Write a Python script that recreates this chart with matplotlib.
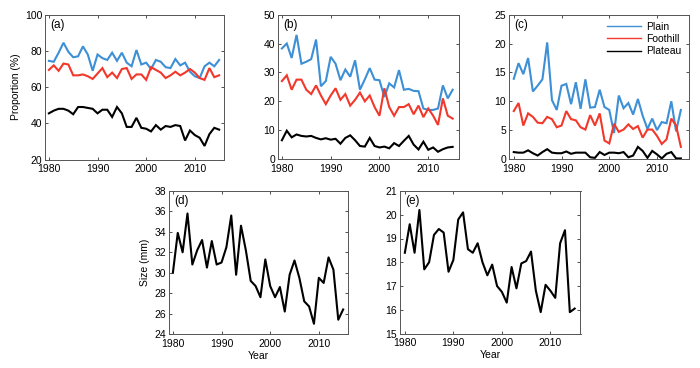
import matplotlib
matplotlib.use("Agg")
import matplotlib.pyplot as plt
import numpy as np

plt.rcParams['font.family'] = ['Liberation Sans', 'DejaVu Sans']

years = list(range(1980, 2016))

# Panel (a) proportion (%)
a_plain = [74.5, 74, 79, 84.5, 79.5, 76.5, 77, 82.5, 78, 69, 78, 76, 75, 79, 74.5, 79, 73.5, 71.5,
           80.5, 72.5, 73.5, 70, 75, 74, 71, 70.5, 75.5, 72, 73.5, 68.5, 66, 65, 71.5, 73.5, 71.5, 75]
a_foothill = [69.5, 72, 69, 73, 72.5, 66.5, 66.5, 67, 66, 64.5, 67.5, 70.5, 65.5, 68, 65, 70, 70.5, 64.5,
              67, 67, 64, 71, 69.5, 68, 65, 66.5, 68.5, 66.5, 68, 70, 68, 65, 64, 70.5, 65.5, 66.5]
a_plateau = [45.5, 47, 48, 48, 47, 45, 49, 49, 48.5, 48, 45.5, 47.5, 47.5, 43.5, 49, 45.5, 38, 38,
             43, 37.5, 37, 35.5, 39, 36.5, 38.5, 38, 39, 38.5, 30.5, 36, 33.5, 32, 27.5, 34, 37.5, 36.5]

# Panel (b)
b_plain = [38.3, 40, 35, 43, 33, 33.7, 34.6, 41.4, 25.2, 27, 35.4, 33, 27.3, 31, 28.5, 34.2, 24, 27.6,
           31.5, 27.5, 27.3, 21.5, 26.2, 24.8, 30.8, 24, 24.3, 23.6, 23.5, 17.5, 17, 17, 17.5, 25.5, 21, 24]
b_foothill = [27, 29, 24, 27.5, 27.5, 24, 22.5, 25.5, 22, 19, 22, 24.5, 20.5, 22.5, 18.5, 20.5, 23, 20,
              22, 18, 15, 24.5, 18, 15, 18, 18, 19, 15.5, 18.5, 14.5, 17.5, 15, 11.8, 21, 15, 14]
b_plateau = [6.5, 9.8, 7.5, 8.5, 8, 7.8, 8, 7.3, 6.8, 7.2, 6.7, 7, 5.3, 7.3, 8.2, 6.5, 4.5, 4.3,
             7.3, 4.5, 4, 4.3, 3.7, 5.5, 4.5, 6.3, 8, 5, 3.3, 6, 3.2, 4, 2.5, 3.4, 4, 4.2]

# Panel (c)
c_plain = [13.9, 16.6, 14.7, 17.5, 11.7, 12.7, 13.8, 20.2, 10.2, 8.5, 12.7, 13, 9.5, 13.3, 8.7, 13.8, 8.9, 9,
           12, 9, 8.5, 4.5, 11, 8.8, 9.7, 7.7, 10.4, 7.5, 5.2, 7, 5, 6.4, 6.2, 10, 4.8, 8.5]
c_foothill = [8.3, 9.7, 5.8, 7.9, 7.3, 6.3, 6.2, 7.3, 6.9, 5.5, 5.8, 8.3, 6.9, 6.7, 5.5, 5.1, 7.6, 5.8,
              7.9, 3.2, 2.7, 6.1, 4.7, 5.1, 6, 5.2, 5.7, 3.7, 5.1, 5.1, 4, 2.6, 3.4, 7, 5.8, 2.1]
c_plateau = [1.2, 1.1, 1.1, 1.5, 1.0, 0.6, 1.2, 1.7, 1.1, 1.0, 1.0, 1.3, 0.9, 1.1, 1.1, 1.1, 0.3, 0.2,
             1.2, 0.7, 1.1, 1.1, 1.0, 1.2, 0.3, 0.6, 2.1, 1.4, 0.2, 1.4, 0.8, 0.1, 0.9, 1.2, 0.1, 0.1]

# Panel (d) size (mm)
d_size = [30, 33.9, 32, 35.8, 30.8, 32.2, 33.2, 30.5, 33.1, 30.8, 31, 32.5, 35.6, 29.8, 34.6, 32.2, 29.2, 28.7,
          27.6, 31.3, 28.7, 27.6, 28.6, 26.2, 29.8, 31.2, 29.5, 27.2, 26.7, 25, 29.5, 29, 31.5, 30.3, 25.4, 26.4]

# Panel (e) size (mm)
e_size = [18.4, 19.6, 18.4, 20.2, 17.7, 18, 19.15, 19.4, 19.25, 17.6, 18.1, 19.8, 20.1, 18.55, 18.4, 18.8, 18, 17.45,
          17.9, 17, 16.75, 16.3, 17.8, 16.9, 17.95, 18.05, 18.45, 16.8, 15.9, 17.05, 16.8, 16.5, 18.8, 19.35, 15.9, 16.05]

series_labels = ['Plain', 'Foothill', 'Plateau']
colors = ['#3d8fd6', '#f2372b', '#000000']

fig = plt.figure(figsize=(7.0, 3.68), dpi=100)
FS = 7.5

def style(ax, xlim, ylim, yticks, label):
    ax.set_xlim(*xlim)
    ax.set_ylim(*ylim)
    ax.set_xticks([1980, 1990, 2000, 2010])
    ax.set_yticks(yticks)
    ax.tick_params(direction='in', length=2.5, width=0.6, labelsize=FS, top=True, right=True,
                   colors='#333333', labelcolor='black')
    ax.tick_params(axis='x', pad=3.5)
    ax.tick_params(axis='y', pad=2)
    for s in ax.spines.values():
        s.set_linewidth(0.7)
        s.set_color('#555555')
    ax.text(0.03, 0.97, label, transform=ax.transAxes, ha='left', va='top', fontsize=8.5)

W = 700.0
H = 368.0
def pos(l, r, t, b):
    return [l / W, 1 - b / H, (r - l) / W, (b - t) / H]

ax_a = fig.add_axes(pos(45, 224, 14.7, 159.5))
ax_b = fig.add_axes(pos(278, 458.5, 14.7, 159))
ax_c = fig.add_axes(pos(509, 688.5, 14.7, 159))
ax_d = fig.add_axes(pos(169, 348, 191, 334))
ax_e = fig.add_axes(pos(400, 580.5, 191, 333.5))

for ax, data in [(ax_a, (a_plain, a_foothill, a_plateau)),
                 (ax_b, (b_plain, b_foothill, b_plateau)),
                 (ax_c, (c_plain, c_foothill, c_plateau))]:
    for vals, c, lab in zip(data, colors, series_labels):
        ax.plot(years, vals, color=c, lw=1.5, label=lab, solid_joinstyle='miter')

style(ax_a, (1979.2, 2016.0), (20, 100), [20, 40, 60, 80, 100], '(a)')
style(ax_b, (1979.2, 2016.2), (0, 50), [0, 10, 20, 30, 40, 50], '(b)')
style(ax_c, (1979.0, 2016.6), (0, 25), [0, 5, 10, 15, 20, 25], '(c)')
ax_a.set_ylabel('Proportion (%)', fontsize=FS, labelpad=3)

leg = ax_c.legend(loc='upper right', frameon=False, fontsize=FS, handlelength=3.2,
                  handletextpad=0.5, labelspacing=0.2, borderaxespad=0.3)
for h in leg.get_lines():
    h.set_linewidth(1.0)

ax_d.plot(years, d_size, color='black', lw=1.5)
ax_e.plot(years, e_size, color='black', lw=1.5)
style(ax_d, (1979.2, 2016.0), (24, 38), list(range(24, 39, 2)), '(d)')
style(ax_e, (1979.0, 2016.2), (15, 21), list(range(15, 22)), '(e)')
ax_d.set_ylabel('Size (mm)', fontsize=FS, labelpad=3)
ax_d.set_xlabel('Year', fontsize=FS, labelpad=1.5)
ax_e.set_xlabel('Year', fontsize=FS, labelpad=1.5)

fig.savefig('out.png', dpi=100)
